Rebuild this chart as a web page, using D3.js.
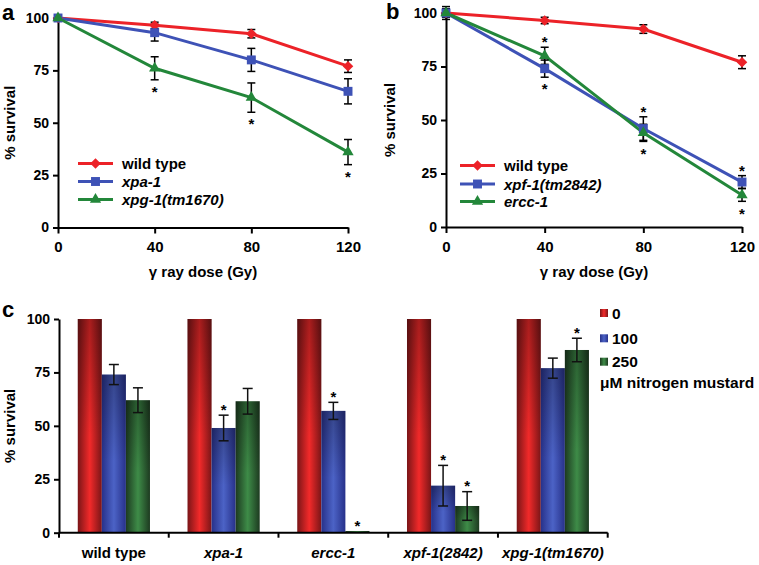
<!DOCTYPE html>
<html>
<head>
<meta charset="utf-8">
<script src="https://cdn.jsdelivr.net/npm/d3@7"></script>
<style>
  body { margin: 0; background: #fff; }
  text { font-family: "Liberation Sans", Arial, Helvetica, sans-serif; font-weight: bold; }
</style>
</head>
<body>
<script>
// ---- data ----
const doses = [0, 40, 80, 120]
const yTicks = [0, 25, 50, 75, 100]

// panel a
const wtA = [100, 96.5, 92.5, 77]
const wtAErr = [0, 1.5, 2, 3]
const xpaA = [100, 93, 80, 65]
const xpaAErr = [0, 4, 5.5, 6]
const xpgA = [100, 76, 62, 36]
const xpgAErr = [0, 5.5, 7, 6]
const xpgAStar = [null, 'below', 'below', 'below']

// panel b
const wtB = [100, 96.5, 92.5, 77]
const wtBErr = [2, 1.5, 2, 3]
const xpfB = [100, 74, 46, 21]
const xpfBErr = [3, 4, 5.5, 3]
const xpfBStar = [null, 'below', 'above', 'above']
const erccB = [100, 80, 44, 15]
const erccBErr = [0, 4, 4, 3]
const erccBStar = [null, 'above', 'below', 'below']

// panel c
const strains = ['wild type', 'xpa-1', 'ercc-1', 'xpf-1(2842)', 'xpg-1(tm1670)']
const mustard = ['0', '100', '250']
const surv0 = [100, 100, 100, 100, 100]
const surv100 = [74, 49, 57, 22, 77]
const err100 = [4.7, 6, 4, 9.5, 4.7]
const star100 = [0, 1, 1, 1, 0]
const surv250 = [62, 61.5, 0.8, 12.5, 85.5]
const err250 = [5.8, 6, 0, 6.7, 5.5]
const star250 = [0, 0, 1, 1, 1]

const red = '#ec2228', blue = '#3e52b6', green = '#23873a'

const svg = d3.select('body')
     .append('svg')
     .attr('width', 759)
     .attr('height', 565)

// gradients for the bars
const defs = svg.append('defs')
const grads = {
     red: ['#7a1517', '#f22a2a', '#7a1517'],
     blue: ['#27318a', '#4c63c6', '#27318a'],
     green: ['#1d3a20', '#3e8c48', '#1d3a20']
}
Object.keys(grads).forEach(k => {
     const g = defs.append('linearGradient').attr('id', 'g-' + k)
          .attr('x1', 0).attr('x2', 1).attr('y1', 0).attr('y2', 0)
     g.append('stop').attr('offset', '0%').attr('stop-color', grads[k][0])
     g.append('stop').attr('offset', '50%').attr('stop-color', grads[k][1])
     g.append('stop').attr('offset', '100%').attr('stop-color', grads[k][2])
})
const shade = defs.append('linearGradient').attr('id', 'shade')
     .attr('x1', 0).attr('x2', 0).attr('y1', 0).attr('y2', 1)
shade.append('stop').attr('offset', '0%').attr('stop-color', '#000').attr('stop-opacity', 0.3)
shade.append('stop').attr('offset', '55%').attr('stop-color', '#000').attr('stop-opacity', 0)

function styleAxis(g, size) {
     g.select('.domain').attr('stroke', '#000').attr('stroke-width', 2)
     g.selectAll('.tick line').attr('stroke', '#000').attr('stroke-width', 2)
     g.selectAll('.tick text').attr('fill', '#000').style('font-size', size + 'px')
          .style('font-family', '"Liberation Sans", Arial, sans-serif').style('font-weight', 'bold')
}

function linePanel(p) {
     const g = svg.append('g')
     const x = d3.scaleLinear().domain([0, 120]).range(p.xr)
     const y = d3.scaleLinear().domain([0, 100]).range(p.yr)

     g.append('g')
          .attr('transform', 'translate(0,' + p.yr[0] + ')')
          .call(d3.axisBottom(x).tickValues(doses).tickSize(6).tickPadding(8).tickSizeOuter(0))
          .call(a => styleAxis(a, 15))
     g.append('g')
          .attr('transform', 'translate(' + p.xr[0] + ',0)')
          .call(d3.axisLeft(y).tickValues(yTicks).tickSize(5).tickPadding(4).tickSizeOuter(0))
          .call(a => styleAxis(a, 14))

     g.append('text').attr('x', (p.xr[0] + p.xr[1]) / 2).attr('y', 277)
          .attr('text-anchor', 'middle').style('font-size', '15px').text('γ ray dose (Gy)')
     g.append('text').attr('transform', 'translate(' + p.ylx + ',' + y(50) + ') rotate(-90)')
          .attr('text-anchor', 'middle').style('font-size', '15px').text('% survival')
     g.append('text').attr('x', p.letter[0]).attr('y', p.letter[1])
          .style('font-size', '22px').text(p.name)

     const line = d3.line().x((d, i) => x(doses[i])).y(d => y(d))

     p.series.forEach(s => {
          g.append('path').datum(s.values)
               .attr('d', line).attr('fill', 'none')
               .attr('stroke', s.color).attr('stroke-width', 3)
     })
     p.series.forEach(s => {
          const eb = g.append('g').attr('stroke', '#000').attr('stroke-width', 1.5)
          s.values.forEach((v, i) => {
               const e = s.errs[i]
               if (!e) return
               const cx = x(doses[i])
               eb.append('line').attr('x1', cx).attr('x2', cx).attr('y1', y(v - e)).attr('y2', y(v + e))
               eb.append('line').attr('x1', cx - 4).attr('x2', cx + 4).attr('y1', y(v - e)).attr('y2', y(v - e))
               eb.append('line').attr('x1', cx - 4).attr('x2', cx + 4).attr('y1', y(v + e)).attr('y2', y(v + e))
          })
     })
     p.series.forEach(s => {
          g.selectAll(null).data(s.values).enter().append('path')
               .attr('d', d3.symbol().type(s.shape).size(s.size))
               .attr('transform', (d, i) => 'translate(' + x(doses[i]) + ',' + y(d) + ') rotate(' + (s.rot || 0) + ')')
               .attr('fill', s.color)
          if (s.stars) {
               s.values.forEach((v, i) => {
                    const pos = s.stars[i]
                    if (!pos) return
                    const cy = pos === 'below' ? y(v - s.errs[i]) + 8.5 : y(v + s.errs[i]) - 8.5
                    g.append('text').attr('x', x(doses[i])).attr('y', cy + 8.7)
                         .attr('text-anchor', 'middle').style('font-size', '15px').text('*')
               })
          }
     })

     // legend
     p.series.forEach((s, i) => {
          const ly = p.legY[i]
          g.append('line').attr('x1', p.legX).attr('x2', p.legX + 35).attr('y1', ly).attr('y2', ly)
               .attr('stroke', s.color).attr('stroke-width', 3)
          g.append('path').attr('d', d3.symbol().type(s.shape).size(s.size))
               .attr('transform', 'translate(' + (p.legX + 17.5) + ',' + ly + ') rotate(' + (s.rot || 0) + ')')
               .attr('fill', s.color)
          g.append('text').attr('x', p.legX + 44).attr('y', ly + 5.5)
               .style('font-size', '15px').style('font-style', s.italic ? 'italic' : 'normal')
               .text(s.name)
     })
}

const diamond = { shape: d3.symbolSquare, size: 56, rot: 45 }
const square = { shape: d3.symbolSquare, size: 80 }
const triangle = { shape: d3.symbolTriangle, size: 55 }

linePanel({
     name: 'a', letter: [2, 20], xr: [58, 348], yr: [227.5, 18], ylx: 15,
     legX: 78, legY: [163.5, 181.5, 199.5],
     series: [
          Object.assign({ name: 'wild type', values: wtA, errs: wtAErr, color: red }, diamond),
          Object.assign({ name: 'xpa-1', values: xpaA, errs: xpaAErr, color: blue, italic: true }, square),
          Object.assign({ name: 'xpg-1(tm1670)', values: xpgA, errs: xpgAErr, color: green, italic: true, stars: xpgAStar }, triangle)
     ]
})

linePanel({
     name: 'b', letter: [386, 19], xr: [446, 742], yr: [227, 13], ylx: 395,
     legX: 460, legY: [165.5, 184, 201.5],
     series: [
          Object.assign({ name: 'wild type', values: wtB, errs: wtBErr, color: red }, diamond),
          Object.assign({ name: 'xpf-1(tm2842)', values: xpfB, errs: xpfBErr, color: blue, italic: true, stars: xpfBStar }, square),
          Object.assign({ name: 'ercc-1', values: erccB, errs: erccBErr, color: green, italic: true, stars: erccBStar }, triangle)
     ]
})

// ---- panel c: bars ----
const gc = svg.append('g')
const xc = d3.scaleBand().domain(strains).range([59, 607.7]).padding(0)
const xd = d3.scaleBand().domain(mustard).range([0, xc.bandwidth()]).paddingInner(0).paddingOuter(0.78)
const yc = d3.scaleLinear().domain([0, 100]).range([532.7, 319])

const barData = []
strains.forEach((s, i) => {
     barData.push({ strain: s, dose: '0', v: surv0[i], e: 0, star: 0, col: 'red' })
     barData.push({ strain: s, dose: '100', v: surv100[i], e: err100[i], star: star100[i], col: 'blue' })
     barData.push({ strain: s, dose: '250', v: surv250[i], e: err250[i], star: star250[i], col: 'green' })
})

const bars = gc.selectAll('g.bar').data(barData).enter().append('g').attr('class', 'bar')
bars.append('rect')
     .attr('x', d => xc(d.strain) + xd(d.dose))
     .attr('y', d => yc(d.v))
     .attr('width', xd.bandwidth())
     .attr('height', d => yc(0) - yc(d.v))
     .attr('fill', d => 'url(#g-' + d.col + ')')
bars.append('rect')
     .attr('x', d => xc(d.strain) + xd(d.dose))
     .attr('y', d => yc(d.v))
     .attr('width', xd.bandwidth())
     .attr('height', d => yc(0) - yc(d.v))
     .attr('fill', 'url(#shade)')

bars.filter(d => d.e > 0).each(function(d) {
     const cx = xc(d.strain) + xd(d.dose) + xd.bandwidth() / 2
     const eb = d3.select(this).append('g').attr('stroke', '#111').attr('stroke-width', 1.5)
     eb.append('line').attr('x1', cx).attr('x2', cx).attr('y1', yc(d.v - d.e)).attr('y2', yc(d.v + d.e))
     eb.append('line').attr('x1', cx - 5).attr('x2', cx + 5).attr('y1', yc(d.v - d.e)).attr('y2', yc(d.v - d.e))
     eb.append('line').attr('x1', cx - 5).attr('x2', cx + 5).attr('y1', yc(d.v + d.e)).attr('y2', yc(d.v + d.e))
})
bars.filter(d => d.star).append('text')
     .attr('x', d => xc(d.strain) + xd(d.dose) + xd.bandwidth() / 2)
     .attr('y', d => yc(d.v + d.e) - 9 + 8.7)
     .attr('text-anchor', 'middle').style('font-size', '15px').text('*')

gc.append('g')
     .attr('transform', 'translate(59,0)')
     .call(d3.axisLeft(yc).tickValues(yTicks).tickSize(5).tickPadding(4).tickSizeOuter(0))
     .call(a => styleAxis(a, 14))

gc.append('line').attr('x1', 59).attr('x2', 607.7).attr('y1', yc(0)).attr('y2', yc(0))
     .attr('stroke', '#000').attr('stroke-width', 2)
gc.selectAll('line.btick').data(strains.concat(['end'])).enter().append('line')
     .attr('class', 'btick')
     .attr('x1', (d, i) => i < strains.length ? xc(d) : xc(strains[strains.length - 1]) + xc.bandwidth())
     .attr('x2', (d, i) => i < strains.length ? xc(d) : xc(strains[strains.length - 1]) + xc.bandwidth())
     .attr('y1', yc(0)).attr('y2', yc(0) + 5)
     .attr('stroke', '#000').attr('stroke-width', 2)

gc.selectAll('text.strain').data(strains).enter().append('text')
     .attr('class', 'strain')
     .attr('x', d => xc(d) + xc.bandwidth() / 2)
     .attr('y', 558)
     .attr('text-anchor', 'middle')
     .style('font-size', '15px')
     .style('font-style', d => d === 'wild type' ? 'normal' : 'italic')
     .text(d => d)

gc.append('text').attr('transform', 'translate(15,' + yc(50) + ') rotate(-90)')
     .attr('text-anchor', 'middle').style('font-size', '15px').text('% survival')
gc.append('text').attr('x', 2).attr('y', 317).style('font-size', '22px').text('c')

// legend c
const legCols = ['red', 'blue', 'green']
const legYs = [313, 338.3, 361.7]
mustard.forEach((m, i) => {
     gc.append('rect').attr('x', 600).attr('y', legYs[i] - 4).attr('width', 8).attr('height', 8)
          .attr('fill', 'url(#g-' + legCols[i] + ')')
     gc.append('text').attr('x', 612).attr('y', legYs[i] + 5.5).style('font-size', '15.5px').text(m)
})
gc.append('text').attr('x', 600).attr('y', 388).style('font-size', '15.5px').text('μM nitrogen mustard')
</script>
</body>
</html>
